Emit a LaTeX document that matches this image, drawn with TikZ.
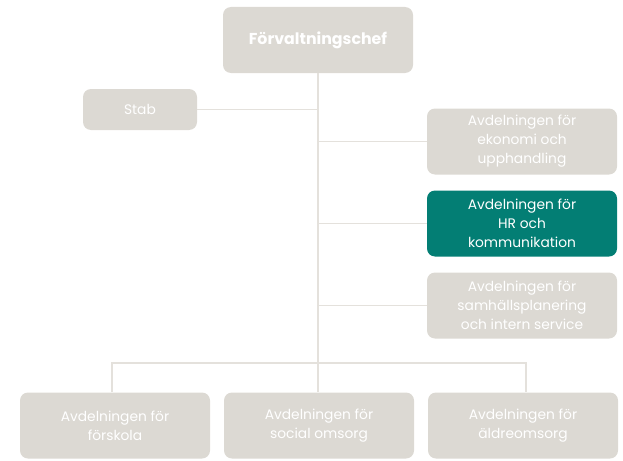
\documentclass[tikz,border=0pt]{standalone}
\usepackage{fontspec}
\setmainfont{Poppins}
\definecolor{boxgray}{HTML}{DCD9D3}
\definecolor{linegray}{HTML}{E4E1DC}
\definecolor{hrteal}{HTML}{037E74}
\begin{document}
\begin{tikzpicture}[x=1pt, y=-1pt,
  unit/.style = {fill=boxgray, rounded corners=8pt, text=white, align=center,
    inner sep=0pt, minimum width=190pt, minimum height=66pt,
    font=\fontsize{13.8}{19}\selectfont},
  active/.style = {unit, fill=hrteal},
  link/.style = {linegray, line width=1.8pt}]
\useasboundingbox (0,0) rectangle (623,460);
% top and staff
\draw(318,40) node[unit, font=\fontsize{15.8}{18}\selectfont\bfseries] (chef) {Förvaltningschef};
\draw(140,109.5) node[unit, minimum width=114pt, minimum height=41pt] (stab) {Stab};
% departments on the right
\draw(522,141.5) node[unit] (eko) {Avdelningen för\\ekonomi och\\upphandling};
\draw(522,223.5) node[active] (hr) {Avdelningen för\\HR och\\kommunikation};
\draw(522,305.5) node[unit] (sam) {Avdelningen för\\samhällsplanering\\och intern service};
% departments at the bottom
\draw(115,425.5) node[unit] (fsk) {Avdelningen för\\förskola};
\draw(319,425.5) node[unit] (soc) {Avdelningen för\\social omsorg};
\draw(523,425.5) node[unit] (aldre) {Avdelningen för\\äldreomsorg};
% lines
\coordinate (bus) at (318,363);
\draw[link] (chef) -- (bus);
\draw[link] (stab.east) -- (stab.east -| bus);
\draw[link] (eko.west -| bus) -- (eko);
\draw[link] (hr.west -| bus) -- (hr);
\draw[link] (sam.west -| bus) -- (sam);
\draw[link] (fsk.north -| 112,0) |- (bus) -| (aldre.north -| 526,0);
\draw[link] (bus) -- (soc.north -| bus);
\end{tikzpicture}
\end{document}
